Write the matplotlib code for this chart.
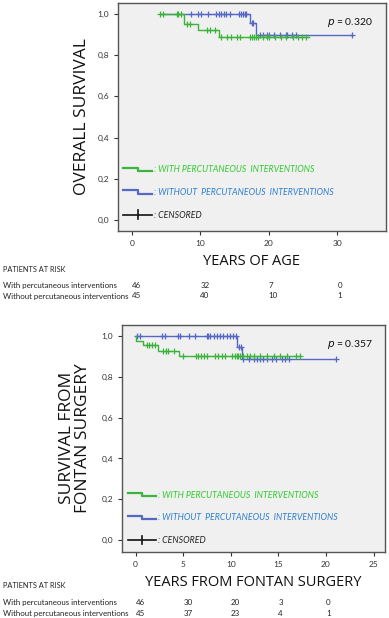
import matplotlib
matplotlib.use("Agg")
import matplotlib.pyplot as plt
from matplotlib.lines import Line2D
from matplotlib.legend_handler import HandlerBase
from matplotlib.transforms import blended_transform_factory

plt.rcParams['font.family'] = ['Lato', 'DejaVu Sans']

# ---------------- DATA ----------------
# Panel A: overall survival vs years of age
a_with_t = [4.2, 7.6, 9.7, 12.7, 25.8]
a_with_s = [1.0, 0.949, 0.919, 0.888, 0.888]
a_with_cens_t = [4.1, 4.5, 6.6, 6.8, 7.2, 8.1, 8.5, 11.0, 11.4, 12.2,
                 13.1, 13.9, 14.5, 15.3, 15.8, 17.2, 17.6, 17.8, 18.1, 18.4,
                 19.1, 19.7, 20.1, 20.9, 21.8, 22.5, 23.5, 24.3, 24.8, 25.5]
a_without_t = [4.2, 17.3, 18.1, 32.2]
a_without_s = [1.0, 0.954, 0.897, 0.897]
a_without_cens_t = [8.6, 9.7, 10.1, 11.2, 12.3, 12.7, 13.0, 13.4, 13.8, 14.3,
                    15.7, 16.0, 16.2, 16.5, 16.7, 17.5, 17.7, 18.7, 19.2, 19.7,
                    20.1, 20.7, 21.6, 22.5, 22.7, 23.4, 23.9, 32.2]
a_risk_times = [0, 10, 20, 30]
a_risk_with = [46, 32, 7, 0]
a_risk_without = [45, 40, 10, 1]
a_p = "0.320"

# Panel B: survival from Fontan surgery
b_with_t = [0.0, 0.03, 0.74, 2.4, 4.6, 17.3]
b_with_s = [1.0, 0.977, 0.954, 0.928, 0.902, 0.902]
b_with_cens_t = [1.2, 1.4, 1.7, 2.0, 2.9, 3.2, 3.4, 4.0, 5.0, 6.35, 6.6, 6.9,
                 7.2, 7.5, 8.35, 8.7, 9.05, 9.4, 10.1, 10.45, 10.6, 10.8, 11.0,
                 11.3, 11.7, 12.0, 12.4, 13.1, 13.8, 14.5, 15.2, 15.9, 16.9, 17.3]
b_without_t = [0.0, 10.7, 11.2, 21.0]
b_without_s = [1.0, 0.948, 0.886, 0.886]
b_without_cens_t = [0.1, 0.45, 2.8, 3.1, 4.45, 4.7, 5.6, 6.2, 7.5, 7.6, 7.8,
                    8.2, 8.5, 8.9, 9.2, 9.6, 9.9, 10.2, 10.5, 10.9, 11.05,
                    11.3, 11.9, 12.4, 12.7, 13.1, 13.4, 13.8, 14.3, 14.7,
                    15.4, 15.7, 16.1, 21.0]
b_risk_times = [0, 5, 10, 15, 20]
b_risk_with = [46, 30, 20, 3, 0]
b_risk_without = [45, 37, 23, 4, 1]
b_p = "0.357"

yticks = [0.0, 0.2, 0.4, 0.6, 0.8, 1.0]
ytick_labels = ["0,0", "0,2", "0,4", "0,6", "0,8", "1,0"]

legend_labels = [": WITH PERCUTANEOUS  INTERVENTIONS",
                 ": WITHOUT  PERCUTANEOUS  INTERVENTIONS",
                 ": CENSORED"]

GREEN = "#3cb43c"
BLUE = "#5568c4"
GREEN_TXT = "#2ecc2e"
BLUE_TXT = "#2f7fd0"
BG = "#f0f0f0"


def surv_at(ts, ss, x):
    val = ss[0]
    for t, s in zip(ts, ss):
        if x >= t:
            val = s
    return val


class StepHandler(HandlerBase):
    def create_artists(self, legend, orig_handle, xdescent, ydescent,
                       width, height, fontsize, trans):
        x0, x1 = -xdescent, -xdescent + width
        xm = (x0 + x1) / 2
        yt = -ydescent + height * 0.75
        yb = -ydescent + height * 0.25
        ln = Line2D([x0, xm, xm, x1], [yt, yt, yb, yb],
                    color=orig_handle.get_color(), lw=1.6, transform=trans)
        return [ln]


class CensorHandler(HandlerBase):
    def create_artists(self, legend, orig_handle, xdescent, ydescent,
                       width, height, fontsize, trans):
        x0, x1 = -xdescent, -xdescent + width
        xm = (x0 + x1) / 2
        ym = -ydescent + height / 2
        h = Line2D([x0, x1], [ym, ym], color="#111111", lw=1.2, transform=trans)
        v = Line2D([xm, xm], [ym - height * 0.7, ym + height * 0.7],
                   color="#111111", lw=1.2, transform=trans)
        return [h, v]


def draw_panel(fig, rect, with_t, with_s, with_c, wo_t, wo_s, wo_c,
               xlim, xticks, xlabel, ylabel, pval, risk_times, risk_with,
               risk_wo, ylim, legend_anchor, leg_spacing, risk_y, ylabelpad):
    ax = fig.add_axes(rect)
    ax.set_facecolor(BG)
    ax.step(wo_t, wo_s, where="post", color=BLUE, lw=1.0, zorder=3)
    ax.step(with_t, with_s, where="post", color=GREEN, lw=1.0, zorder=4)
    ax.plot(wo_c, [surv_at(wo_t, wo_s, c) for c in wo_c], ls="none",
            marker="+", ms=4, mew=0.9, color=BLUE, zorder=3)
    ax.plot(with_c, [surv_at(with_t, with_s, c) for c in with_c], ls="none",
            marker="+", ms=4, mew=0.9, color=GREEN, zorder=4)
    ax.set_xlim(*xlim)
    ax.set_ylim(*ylim)
    ax.set_xticks(xticks)
    ax.set_xticklabels([str(x) for x in xticks])
    ax.set_yticks(yticks)
    ax.set_yticklabels(ytick_labels)
    ax.tick_params(labelsize=6, colors="#333333", length=3, width=0.8)
    for sp in ax.spines.values():
        sp.set_color("#555555")
        sp.set_linewidth(1.0)
    ax.set_xlabel(xlabel, fontsize=10.5, color="#111111", labelpad=5,
                  family=["Open Sans", "DejaVu Sans"])
    ax.set_ylabel(ylabel, fontsize=12.5, color="#111111", labelpad=ylabelpad,
                  family=["Open Sans", "DejaVu Sans"], linespacing=1.0)
    ax.text(0.78, 0.905, "$p$ = " + pval, transform=ax.transAxes,
            fontsize=7.5, color="#111111")

    hg = Line2D([], [], color=GREEN)
    hb = Line2D([], [], color=BLUE)
    hc = Line2D([], [], color="black")
    leg = ax.legend([hg, hb, hc], legend_labels,
                    handler_map={hg: StepHandler(), hb: StepHandler(),
                                 hc: CensorHandler()},
                    loc="lower left", bbox_to_anchor=legend_anchor,
                    frameon=False, fontsize=6.3, handlelength=3.3,
                    handletextpad=0.2, labelspacing=leg_spacing,
                    borderaxespad=0, borderpad=0)
    for txt, col in zip(leg.get_texts(), [GREEN_TXT, BLUE_TXT, "#222222"]):
        txt.set_color(col)
        txt.set_style("italic")

    # patients at risk table
    tr = blended_transform_factory(ax.transData, fig.transFigure)
    y0, y1, y2 = risk_y
    fig.text(0.008, y0, "PATIENTS AT RISK", fontsize=5.3, color="#222222",
             va="center")
    fig.text(0.008, y1, "With percutaneous interventions", fontsize=5.7,
             color="#222222", va="center")
    fig.text(0.008, y2, "Without percutaneous interventions", fontsize=5.7,
             color="#222222", va="center")
    for t, n1, n2 in zip(risk_times, risk_with, risk_wo):
        ax.text(t, y1, str(n1), transform=tr, fontsize=5.7, color="#222222",
                va="center", ha="left")
        ax.text(t, y2, str(n2), transform=tr, fontsize=5.7, color="#222222",
                va="center", ha="left")
    return ax


fig = plt.figure(figsize=(3.89, 6.18), dpi=100)
fig.patch.set_facecolor("white")

draw_panel(fig, [0.3033, 0.6262, 0.689, 0.369],
           a_with_t, a_with_s, a_with_cens_t,
           a_without_t, a_without_s, a_without_cens_t,
           (-2.0, 37.1), [0, 10, 20, 30], "YEARS OF AGE", "OVERALL SURVIVAL",
           a_p, a_risk_times, a_risk_with, a_risk_without,
           (-0.053, 1.052), (0.02, 0.05), 1.55,
           (1 - 269 / 618, 1 - 286 / 618, 1 - 296 / 618), 5)

draw_panel(fig, [0.3144, 0.1073, 0.6753, 0.3668],
           b_with_t, b_with_s, b_with_cens_t,
           b_without_t, b_without_s, b_without_cens_t,
           (-1.4, 26.2), [0, 5, 10, 15, 20, 25], "YEARS FROM FONTAN SURGERY",
           "SURVIVAL FROM\nFONTAN SURGERY",
           b_p, b_risk_times, b_risk_with, b_risk_without,
           (-0.057, 1.054), (0.02, 0.03), 1.55,
           (1 - 586 / 618, 1 - 602.7 / 618, 1 - 613.3 / 618), 8)

fig.savefig("out.png", dpi=100)
